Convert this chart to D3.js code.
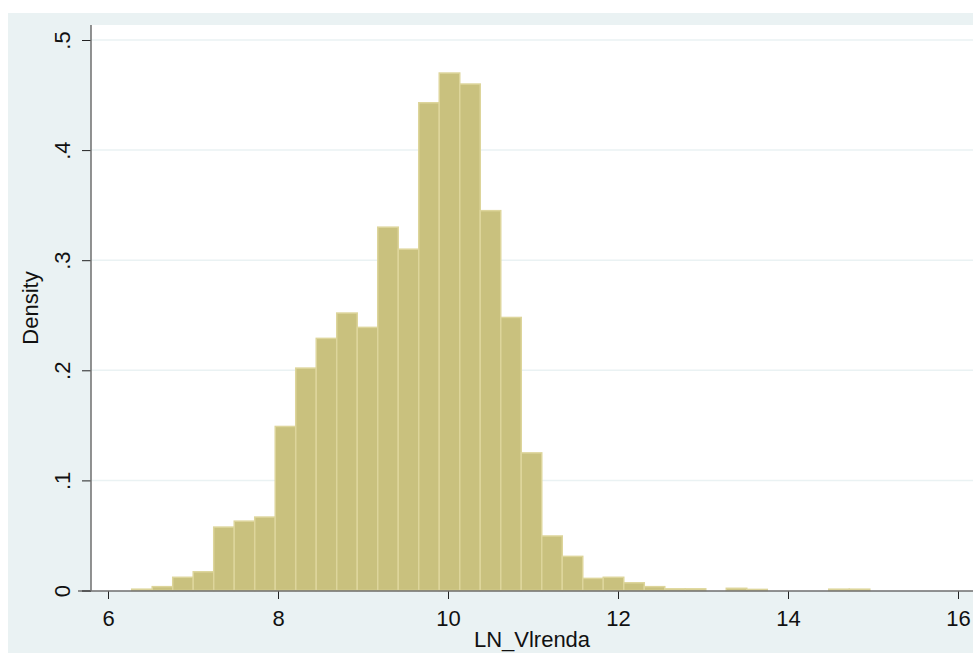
<!DOCTYPE html>
<html>
<head>
<meta charset="utf-8">
<script src="https://cdn.jsdelivr.net/npm/d3@7"></script>
<style>
  body { margin: 0; background: #fff; }
  svg { display: block; font-family: "Liberation Sans", Arial, sans-serif; }
</style>
</head>
<body>
<div id="chart"></div>
<script>
// Histogram of LN_Vlrenda (density)
var binStart = 6.279;
var binWidth = 0.2412;
var densities = [0.0012, 0.0035, 0.012, 0.017, 0.0576, 0.063, 0.0667, 0.149,
  0.202, 0.229, 0.252, 0.239, 0.330, 0.310, 0.443, 0.470, 0.460, 0.345,
  0.248, 0.125, 0.0495, 0.031, 0.011, 0.012, 0.007, 0.0035, 0.0015, 0.0015,
  0, 0.002, 0.001, 0, 0, 0, 0.0012, 0.0012];
var xTicks = [6, 8, 10, 12, 14, 16];
var yTicks = [0, 0.1, 0.2, 0.3, 0.4, 0.5];
var yTickLabels = ["0", ".1", ".2", ".3", ".4", ".5"];
var xTitle = "LN_Vlrenda";
var yTitle = "Density";

var W = 973, H = 653;
var plot = { left: 91, right: 973, top: 25, bottom: 591 };

var svg = d3.select("#chart").append("svg")
  .attr("width", W)
  .attr("height", H);

// graph region background
svg.append("rect")
  .attr("x", 8).attr("y", 13)
  .attr("width", W - 8).attr("height", H - 13)
  .attr("fill", "#eaf2f3");

svg.append("rect")
  .attr("x", plot.left).attr("y", plot.top)
  .attr("width", plot.right - plot.left).attr("height", plot.bottom - plot.top)
  .attr("fill", "#ffffff");

var x = d3.scaleLinear().domain([6, 16]).range([108, 958]);
var y = d3.scaleLinear().domain([0, 0.5]).range([590.5, 40]);

// gridlines
svg.selectAll(".grid")
  .data(yTicks.filter(function(d){ return d > 0; }))
  .enter().append("line")
  .attr("class", "grid")
  .attr("x1", plot.left).attr("x2", plot.right)
  .attr("y1", function(d){ return y(d); })
  .attr("y2", function(d){ return y(d); })
  .style("stroke", "#eaf2f3")
  .style("stroke-width", 1.5);

// bars
svg.selectAll(".bar")
  .data(densities)
  .enter().append("rect")
  .attr("class", "bar")
  .attr("x", function(d, i){ return x(binStart + i * binWidth); })
  .attr("width", function(d, i){ return x(binStart + (i + 1) * binWidth) - x(binStart + i * binWidth); })
  .attr("y", function(d){ return y(d); })
  .attr("height", function(d){ return y(0) - y(d); })
  .style("fill", function(d){ return d > 0 ? "#c9c17e" : "none"; })
  .style("stroke", function(d){ return d > 0 ? "#ddd59b" : "none"; })
  .style("stroke-width", 1.5);

// x axis
var xAxis = svg.append("g")
  .attr("transform", "translate(0," + plot.bottom + ")")
  .call(d3.axisBottom(x).tickValues(xTicks).tickSize(8).tickPadding(11)
    .tickFormat(d3.format("d")));
xAxis.select(".domain").remove();
xAxis.append("line")
  .attr("x1", 78).attr("x2", plot.right)
  .attr("y1", 0).attr("y2", 0)
  .style("stroke", "#6e6e6e").style("stroke-width", 1.5);
xAxis.selectAll(".tick line").style("stroke", "#222");
xAxis.selectAll(".tick text")
  .style("font-size", "22px")
  .style("fill", "#111");

// y axis
var yAxis = svg.append("g")
  .attr("transform", "translate(" + plot.left + ",0)")
  .call(d3.axisLeft(y).tickValues(yTicks).tickSize(9).tickPadding(0)
    .tickFormat(function(d, i){ return yTickLabels[i]; }));
yAxis.select(".domain").remove();
yAxis.append("line")
  .attr("x1", 0).attr("x2", 0)
  .attr("y1", plot.top).attr("y2", plot.bottom)
  .style("stroke", "#6e6e6e").style("stroke-width", 1.5);
yAxis.selectAll(".tick line").style("stroke", "#222");
yAxis.selectAll(".tick text")
  .attr("x", null).attr("dy", null)
  .attr("text-anchor", "middle")
  .attr("transform", "translate(-21,0) rotate(-90)")
  .style("font-size", "22px")
  .style("fill", "#111");

// axis titles
svg.append("text")
  .attr("x", (plot.left + plot.right) / 2)
  .attr("y", 647)
  .attr("text-anchor", "middle")
  .style("font-size", "22px")
  .style("fill", "#111")
  .text(xTitle);

svg.append("text")
  .attr("transform", "translate(38," + ((plot.top + plot.bottom) / 2) + ") rotate(-90)")
  .attr("text-anchor", "middle")
  .style("font-size", "22px")
  .style("fill", "#111")
  .text(yTitle);
</script>
</body>
</html>
